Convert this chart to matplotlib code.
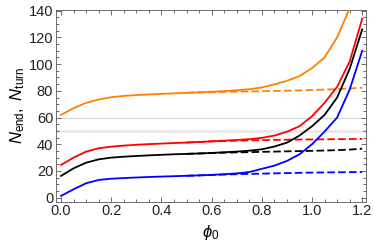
import numpy as np
import matplotlib
matplotlib.use('Agg')
import matplotlib.pyplot as plt
from matplotlib.ticker import MultipleLocator

plt.rcParams['font.family'] = 'Liberation Sans'
plt.rcParams['mathtext.fontset'] = 'custom'
plt.rcParams['mathtext.rm'] = 'Liberation Sans'
plt.rcParams['mathtext.it'] = 'Liberation Sans:italic'

# phi_0 grid (step 0.05)
phi = [0.0, 0.05, 0.1, 0.15, 0.2, 0.25, 0.3, 0.35, 0.4, 0.45, 0.5, 0.55, 0.6,
       0.65, 0.7, 0.75, 0.8, 0.85, 0.9, 0.95, 1.0, 1.05, 1.1, 1.15, 1.2]
phi_dash = phi[10:]  # dashed curves from 0.5 on

# solid curves (N_end)
orange_solid = [62, 67, 71, 73.5, 75.2, 76.2, 76.8, 77.3, 77.7, 78.1, 78.5, 78.9, 79.3,
                79.8, 80.4, 81.2, 82.5, 84.8, 87.5, 91, 97, 105, 120, 142]
red_solid = [24.5, 30, 34.5, 37, 38.2, 39, 39.6, 40.1, 40.5, 40.9, 41.3, 41.7, 42.2,
             42.7, 43.2, 43.8, 44.8, 46.5, 49.4, 53.5, 61, 71, 83, 102, 134]
black_solid = [16.3, 22, 26.2, 28.7, 30, 30.7, 31.2, 31.7, 32.1, 32.5, 32.8, 33.1, 33.5,
               34, 34.5, 35.2, 36.2, 38.3, 41.2, 46.5, 53.5, 62, 75, 96.5, 126]
blue_solid = [1.3, 6.3, 10.8, 13.3, 14.2, 14.7, 15.1, 15.5, 15.8, 16.1, 16.4, 16.7, 17.1,
              17.6, 18.2, 19.2, 21.6, 24, 27.5, 32.5, 40, 49.5, 60, 81, 110]

# dashed curves (N_turn)
orange_dash = [78.5, 78.8, 79.0, 79.2, 79.4, 79.5, 79.7, 79.9, 80.1, 80.3, 80.6, 80.9, 81.3, 81.7, 82.3]
red_dash = [41.3, 41.7, 42.1, 42.4, 42.7, 42.9, 43.1, 43.3, 43.4, 43.5, 43.6, 43.7, 43.8, 43.9, 44.0]
black_dash = [32.8, 33.1, 33.4, 33.7, 33.9, 34.1, 34.3, 34.5, 34.7, 34.9, 35.1, 35.3, 35.6, 36.0, 36.7]
blue_dash = [16.4, 16.7, 17.0, 17.3, 17.6, 17.8, 18.0, 18.2, 18.4, 18.6, 18.8, 18.9, 19.0, 19.1, 19.3]

fig = plt.figure(figsize=(3.74, 2.49), dpi=100)
ax = fig.add_axes([56/374, 47.3/249, 310/374, 191.7/249])

# light gray reference lines
ax.axhline(60, color='#d4d4d4', lw=0.8, zorder=1)
ax.axhline(50, color='#e8e8e8', lw=1.8, zorder=1)

lw = 1.3
cols = ['#ff8000', '#ff0000', 'black', '#0000ff']
dashes = [orange_dash, red_dash, black_dash, blue_dash]
solids = [orange_solid, red_solid, black_solid, blue_solid]
for c, d in zip(cols, dashes):
    ax.plot(phi_dash, d, color=c, lw=lw, ls=(0, (4.2, 1.8)), zorder=2)
for c, s in zip(cols, solids):
    ax.plot(phi[:len(s)], s, color=c, lw=lw, zorder=3)

ax.set_xlim(-0.02, 1.215)
ax.set_ylim(-3, 140.5)
ax.xaxis.set_major_locator(MultipleLocator(0.2))
ax.xaxis.set_minor_locator(MultipleLocator(0.05))
ax.yaxis.set_major_locator(MultipleLocator(20))
ax.yaxis.set_minor_locator(MultipleLocator(5))
ax.xaxis.set_major_formatter(plt.FuncFormatter(lambda v, p: '%.1f' % v))

ax.tick_params(which='both', direction='in', top=True, right=True,
               colors='#555555', labelcolor='#222222', labelsize=10.5, width=0.6)
ax.tick_params(which='major', length=3.5, pad=2)
ax.tick_params(which='minor', length=2)
for sp in ax.spines.values():
    sp.set_color('#555555')
    sp.set_linewidth(0.6)

ax.set_xlabel(r'$\phi_0$', fontsize=12, labelpad=3)
ax.set_ylabel(r'$N_{\mathrm{end}},\ N_{\mathrm{turn}}$', fontsize=12, labelpad=1)

fig.savefig('out.png', dpi=100)
